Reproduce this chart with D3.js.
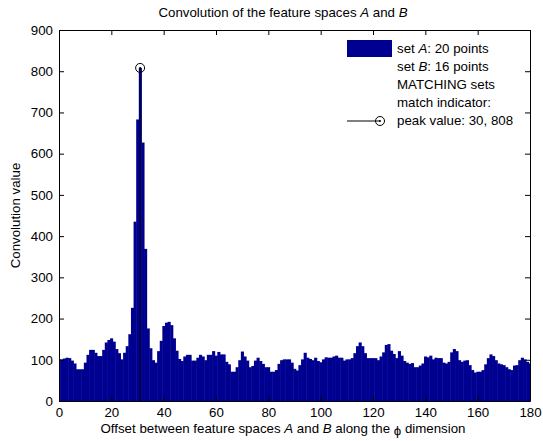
<!DOCTYPE html>
<html>
<head>
<meta charset="utf-8">
<script src="https://cdn.jsdelivr.net/npm/d3@7"></script>
<style>
  body { margin: 0; background: #fff; }
  svg { display: block; font-family: "Liberation Sans", Arial, sans-serif; }
  .axis text { font-size: 13.3px; fill: #000; }
  .axis path, .axis line { stroke: #000; }
</style>
</head>
<body>
<svg width="543" height="441"></svg>
<script>
// convolution value for each offset 0..180
const conv_values = [
  101, 101, 103, 105, 104, 98, 91, 77, 77, 77,
  93, 112, 124, 124, 117, 109, 109, 124, 142, 148,
  152, 144, 126, 116, 101, 117, 133, 162, 226, 435,
  683, 808, 627, 369, 176, 128, 99, 93, 121, 146,
  182, 190, 192, 184, 152, 122, 102, 97, 108, 112,
  112, 98, 98, 105, 112, 108, 99, 112, 112, 121,
  110, 119, 113, 113, 95, 89, 71, 71, 82, 99,
  120, 108, 98, 82, 85, 98, 105, 97, 90, 82,
  82, 71, 71, 75, 90, 99, 101, 101, 101, 93,
  78, 74, 87, 101, 117, 105, 102, 99, 105, 97,
  94, 101, 106, 105, 105, 108, 110, 105, 105, 98,
  101, 101, 104, 116, 133, 142, 133, 116, 104, 104,
  104, 104, 99, 108, 118, 136, 138, 122, 114, 104,
  121, 110, 97, 93, 90, 92, 82, 82, 86, 91,
  108, 106, 110, 101, 105, 104, 104, 93, 91, 95,
  118, 126, 121, 99, 95, 98, 99, 87, 75, 69,
  71, 71, 75, 89, 104, 113, 109, 99, 91, 89,
  87, 82, 77, 75, 86, 87, 99, 105, 101, 95,
  91
];
const offsets = conv_values.map((d, i) => i);

const peak_offset = 31;
const peak_value = 808;

const x_ticks = [0, 20, 40, 60, 80, 100, 120, 140, 160, 180];
const y_ticks = [0, 100, 200, 300, 400, 500, 600, 700, 800, 900];

const legend_items = [
  { type: "patch", parts: [["set ", false], ["A", true], [": 20 points", false]] },
  { type: "none", parts: [["set ", false], ["B", true], [": 16 points", false]] },
  { type: "none", parts: [["MATCHING sets", false]] },
  { type: "none", parts: [["match indicator:", false]] },
  { type: "line", parts: [["peak value: 30, 808", false]] }
];

const bar_color = "#000090";

const margin = { left: 59, right: 13, top: 30, bottom: 40 };
const width = 543, height = 441;
const font_size = "13.3px";

const svg = d3.select("svg");

const x_scale = d3.scaleLinear().domain([0, 180]).range([margin.left, width - margin.right]);
const y_scale = d3.scaleLinear().domain([0, 900]).range([height - margin.bottom, margin.top]);

svg.append("clipPath").attr("id", "plot-clip")
  .append("rect")
  .attr("x", x_scale(0)).attr("y", y_scale(900))
  .attr("width", x_scale(180) - x_scale(0))
  .attr("height", y_scale(0) - y_scale(900));

// bars (slightly overlapped so only a few faint seams remain)
const bw = x_scale(1) - x_scale(0);
svg.append("g")
  .attr("clip-path", "url(#plot-clip)")
  .selectAll("rect")
  .data(offsets)
  .join("rect")
  .attr("x", (d) => x_scale(d - 0.5))
  .attr("width", bw + 0.5)
  .attr("y", (d) => y_scale(conv_values[d]))
  .attr("height", (d) => y_scale(0) - y_scale(conv_values[d]))
  .attr("fill", bar_color);

// match indicator
svg.append("line")
  .attr("x1", x_scale(peak_offset)).attr("x2", x_scale(peak_offset))
  .attr("y1", y_scale(0)).attr("y2", y_scale(peak_value))
  .attr("stroke", "#000").attr("stroke-width", 1);

function marker(g, cx, cy) {
  g.append("circle").attr("cx", cx).attr("cy", cy).attr("r", 4.5)
    .attr("fill", "none").attr("stroke", "#000").attr("stroke-width", 1);
  g.append("circle").attr("cx", cx).attr("cy", cy).attr("r", 1)
    .attr("fill", "#000");
}
marker(svg, x_scale(peak_offset), y_scale(peak_value));

// axes, ticks pointing inwards
const tick_len = 5;
svg.append("g").attr("class", "axis")
  .attr("transform", `translate(0,${y_scale(0)})`)
  .call(d3.axisBottom(x_scale).tickValues(x_ticks).tickSizeInner(-tick_len).tickSizeOuter(0).tickPadding(7));
svg.append("g").attr("class", "axis")
  .attr("transform", `translate(0,${y_scale(900)})`)
  .call(d3.axisTop(x_scale).tickValues(x_ticks).tickSizeInner(-tick_len).tickSizeOuter(0).tickFormat(""));
svg.append("g").attr("class", "axis")
  .attr("transform", `translate(${x_scale(0)},0)`)
  .call(d3.axisLeft(y_scale).tickValues(y_ticks).tickSizeInner(-tick_len).tickSizeOuter(0).tickPadding(6));
svg.append("g").attr("class", "axis")
  .attr("transform", `translate(${x_scale(180)},0)`)
  .call(d3.axisRight(y_scale).tickValues(y_ticks).tickSizeInner(-tick_len).tickSizeOuter(0).tickFormat(""));

// title
const title = svg.append("text")
  .attr("x", 283)
  .attr("y", 17)
  .attr("text-anchor", "middle")
  .style("font-size", font_size);
title.append("tspan").text("Convolution of the feature spaces ");
title.append("tspan").style("font-style", "italic").text("A");
title.append("tspan").text(" and ");
title.append("tspan").style("font-style", "italic").text("B");

// x label
const xl = svg.append("text")
  .attr("x", 283)
  .attr("y", 433)
  .attr("text-anchor", "middle")
  .style("font-size", font_size);
xl.append("tspan").text("Offset between feature spaces ");
xl.append("tspan").style("font-style", "italic").text("A");
xl.append("tspan").text(" and ");
xl.append("tspan").style("font-style", "italic").text("B");
xl.append("tspan").text(" along the ");
xl.append("tspan").attr("dy", 2).text("\u03D5");
xl.append("tspan").attr("dy", -2).text(" dimension");

// y label
svg.append("text")
  .attr("transform", `translate(20,${(y_scale(0) + y_scale(900)) / 2}) rotate(-90)`)
  .attr("text-anchor", "middle")
  .style("font-size", font_size)
  .text("Convolution value");

// legend
const lg = svg.append("g").attr("transform", "translate(347,48)");
legend_items.forEach((item, i) => {
  const y = i * 18;
  if (item.type === "patch") {
    lg.append("rect").attr("x", 0).attr("y", y - 8).attr("width", 45).attr("height", 17)
      .attr("fill", bar_color);
  } else if (item.type === "line") {
    lg.append("line").attr("x1", 0).attr("x2", 33).attr("y1", y + 1).attr("y2", y + 1)
      .attr("stroke", "#000");
    marker(lg, 33, y + 1);
  }
  const t = lg.append("text").attr("x", 50).attr("y", y + 5).style("font-size", font_size);
  item.parts.forEach(([s, it]) => {
    t.append("tspan").style("font-style", it ? "italic" : "normal").text(s);
  });
});
</script>
</body>
</html>
